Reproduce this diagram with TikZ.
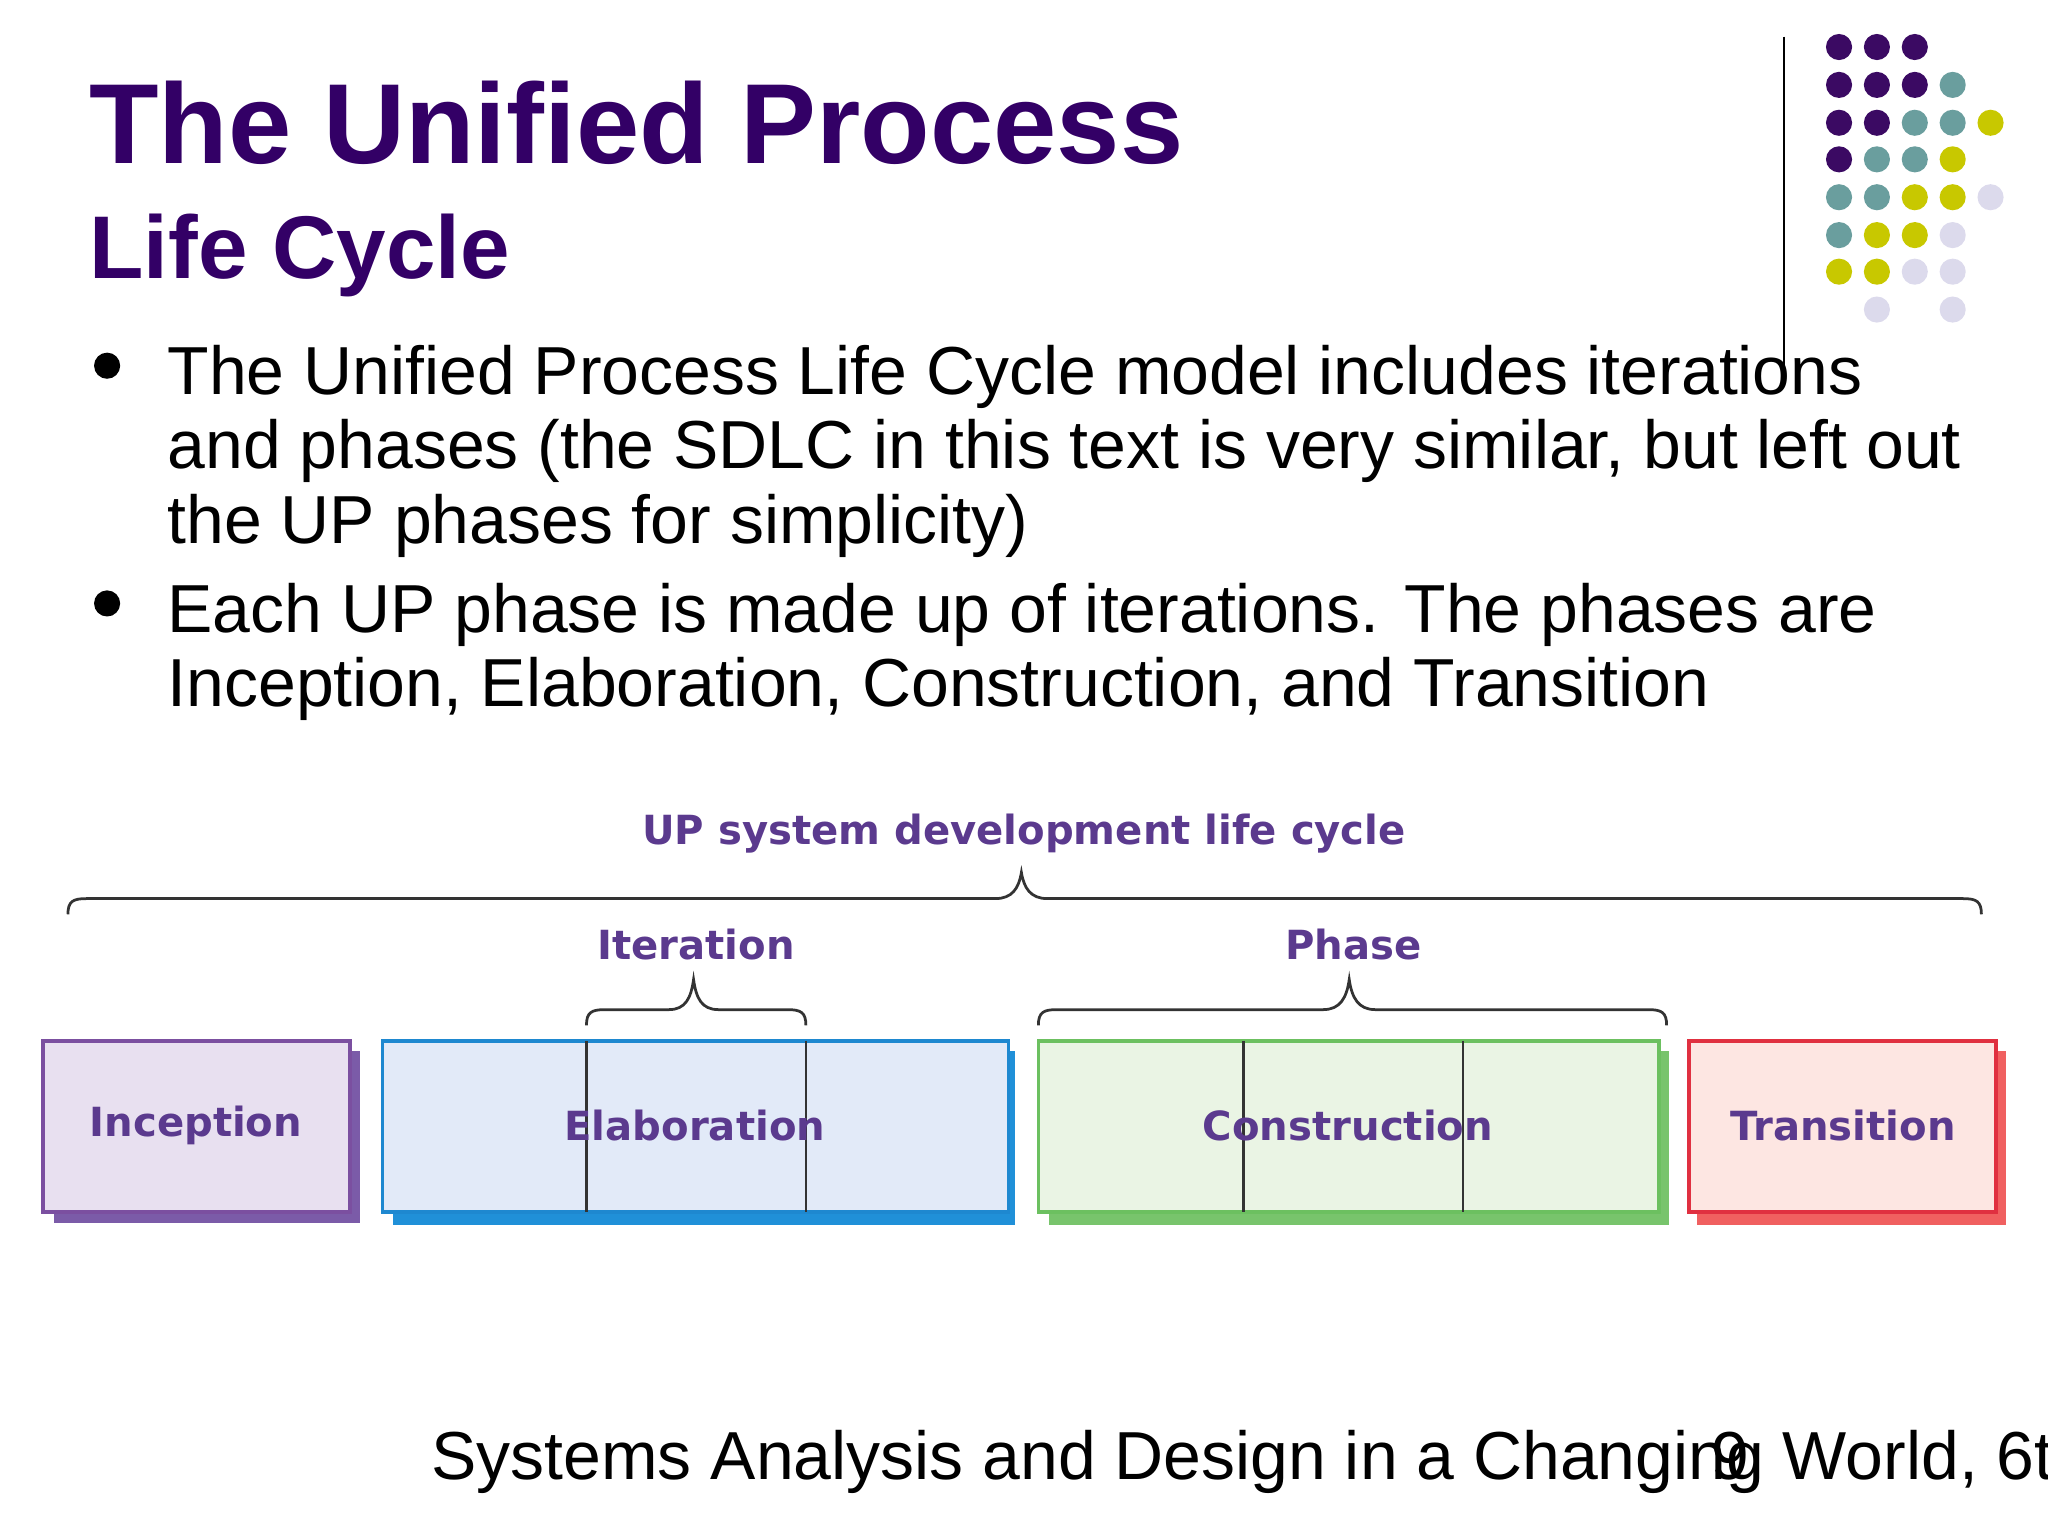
\documentclass[tikz,border=0pt]{standalone}
\usepackage{fontspec}
\setmainfont{Liberation Sans}
\newfontfamily\djv{DejaVu Sans}
\definecolor{ttl}{HTML}{330066}
\definecolor{dP}{HTML}{3B0A63}
\definecolor{dT}{HTML}{6A9E9E}
\definecolor{dY}{HTML}{C8C800}
\definecolor{dL}{HTML}{DCDAEC}
\definecolor{lab}{HTML}{5B3A8E}
\begin{document}
\begin{tikzpicture}[x=0.02cm,y=-0.02cm,
  txt/.style={anchor=base west,inner sep=0pt,font=\fontsize{29.6}{32}\selectfont},
  lbl/.style={inner sep=0pt,text=lab,font=\djv\bfseries\fontsize{17.5}{20}\selectfont},
  brc/.style={draw=black!80,line width=1.2pt}]
\useasboundingbox (0,0) rectangle (1568,1176);
\begin{scope}
\clip (0,0) rectangle (1568,1176);
% dots
\foreach \c/\cx/\cy in {dP/1408/36,dP/1437/36,dP/1466/36,
 dP/1408/65,dP/1437/65,dP/1466/65,dT/1495/65,
 dP/1408/94,dP/1437/94,dT/1466/94,dT/1495/94,dY/1524/94,
 dP/1408/122,dT/1437/122,dT/1466/122,dY/1495/122,
 dT/1408/151,dT/1437/151,dY/1466/151,dY/1495/151,dL/1524/151,
 dT/1408/180,dY/1437/180,dY/1466/180,dL/1495/180,
 dY/1408/208,dY/1437/208,dL/1466/208,dL/1495/208,
 dL/1437/237,dL/1495/237}
  \fill[\c] (\cx,\cy) circle (10);
\draw[black,line width=1pt] (1366,28) -- (1366,285);
% titles
\node[anchor=base west,inner sep=0pt,text=ttl,font=\bfseries\fontsize{49.6}{55}\selectfont] (t1) at (68,125) {The Unified Process};
\node[anchor=base west,inner sep=0pt,text=ttl,font=\bfseries\fontsize{38.8}{42}\selectfont] (t2) at (68,213) {Life Cycle};
% bullets
\fill (82,280) circle (10);
\fill (82,462) circle (10);
\node[txt] (b1) at (128,302) {The Unified Process Life Cycle model includes iterations};
\node[txt] (b2) at (128,359) {and phases (the SDLC in this text is very similar, but left out};
\node[txt] (b3) at (128,416) {the UP phases for simplicity)};
\node[txt] (b4) at (128,484) {Each UP phase is made up of iterations. The phases are};
\node[txt] (b5) at (128,541) {Inception, Elaboration, Construction, and Transition};
% boxes
\fill[fill={rgb,255:red,123;green,91;blue,168}] (41,805) rectangle (276,936);
\draw[draw={rgb,255:red,123;green,79;blue,160},line width=1.5pt,fill={rgb,255:red,232;green,224;blue,240}] (33,797) rectangle (268,928);
\fill[fill={rgb,255:red,32;green,144;blue,216}] (301,805) rectangle (777,938);
\draw[draw={rgb,255:red,30;green,136;blue,208},line width=1.5pt,fill={rgb,255:red,226;green,234;blue,248}] (293,797) rectangle (772,928);
\fill[fill={rgb,255:red,120;green,196;blue,108}] (803,805) rectangle (1278,938);
\draw[draw={rgb,255:red,108;green,192;blue,96},line width=1.5pt,fill={rgb,255:red,234;green,244;blue,228}] (795,797) rectangle (1270,928);
\fill[fill={rgb,255:red,240;green,96;blue,96}] (1299,805) rectangle (1536,938);
\draw[draw={rgb,255:red,224;green,48;blue,64},line width=1.5pt,fill={rgb,255:red,253;green,230;blue,226}] (1293,797) rectangle (1528,928);
\foreach \xx in {449,617,952,1120} \draw[black!80,line width=1pt] (\xx,797) -- (\xx,928);
\node[lbl] (inc) at (150,862) {Inception};
\node[lbl] (ela) at (532,862) {Elaboration};
\node[lbl] (con) at (1032,862) {Construction};
\node[lbl] (tra) at (1411,862) {Transition};
% braces
\draw[brc] (52,700) .. controls (52,690) and (56,688) .. (66,688) -- (762,688)
  .. controls (775,688) and (780,680) .. (782,668) .. controls (784,680) and (789,688) .. (802,688)
  -- (1503,688) .. controls (1513,688) and (1517,690) .. (1517,700);
\draw[brc] (449,785) .. controls (449,775) and (453,773) .. (463,773) -- (512,773)
  .. controls (525,773) and (529,764) .. (531,750) .. controls (533,764) and (537,773) .. (550,773)
  -- (603,773) .. controls (613,773) and (617,775) .. (617,785);
\draw[brc] (795,785) .. controls (795,775) and (799,773) .. (809,773) -- (1013,773)
  .. controls (1026,773) and (1031,764) .. (1033,750) .. controls (1035,764) and (1040,773) .. (1053,773)
  -- (1262,773) .. controls (1272,773) and (1276,775) .. (1276,785);
\node[lbl] (up) at (784,638) {UP system development life cycle};
\node[lbl] (it) at (533,723) {Iteration};
\node[lbl] (ph) at (1036,723) {Phase};
% footer
\node[txt] (f1) at (330,1133) {Systems Analysis and Design in a Changing World, 6th};
\node[txt] (f2) at (1310,1133) {9};
\end{scope}
\end{tikzpicture}
\end{document}
